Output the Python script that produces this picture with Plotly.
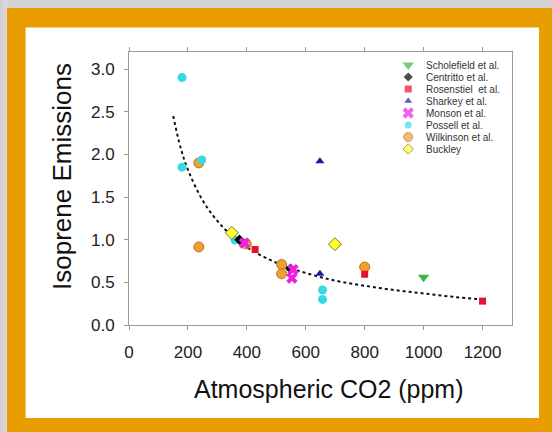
import plotly.graph_objects as go

# ---- data ----
series_names = ["Scholefield et al.", "Centritto et al.", "Rosenstiel  et al.", "Sharkey et al.",
                "Monson et al.", "Possell et al.", "Wilkinson et al.", "Buckley"]

scholefield_x = [1000]
scholefield_y = [0.56]

centritto_x = [375, 548]
centritto_y = [1.00, 0.66]

rosenstiel_x = [428, 800, 1200]
rosenstiel_y = [0.885, 0.595, 0.28]

sharkey_x = [648, 648]
sharkey_y = [1.92, 0.60]

monson_x = [392, 557, 553]
monson_y = [0.96, 0.65, 0.55]

possell_x = [180, 180, 247, 360, 657, 657]
possell_y = [2.90, 1.85, 1.935, 0.995, 0.41, 0.30]

wilkinson_x = [237, 237, 398, 518, 518, 800]
wilkinson_y = [1.90, 0.915, 0.95, 0.71, 0.60, 0.68]

buckley_x = [349, 699]
buckley_y = [1.08, 0.947]

# dotted trend curve
trend_x = [150, 175, 200, 250, 300, 350, 400, 500, 600, 700, 800, 900, 1000, 1100, 1200]
trend_y = [2.45, 2.08, 1.82, 1.46, 1.22, 1.04, 0.91, 0.73, 0.61, 0.52, 0.46, 0.41, 0.37, 0.33, 0.30]

x_ticks = [0, 200, 400, 600, 800, 1000, 1200]
y_ticks = [0.0, 0.5, 1.0, 1.5, 2.0, 2.5, 3.0]

# ---- styles ----
styles = [
    dict(symbol="triangle-down", color="#3cb84a", line=dict(width=0), size=10),
    dict(symbol="diamond", color="#000000", line=dict(width=0), size=8),
    dict(symbol="square", color="#e8102a", line=dict(width=0), size=7),
    dict(symbol="triangle-up", color="#1a1aa8", line=dict(width=0), size=8),
    dict(symbol="x", color="#f01ee0", line=dict(width=0), size=10),
    dict(symbol="circle", color="#3ad8e4", line=dict(width=0), size=9),
    dict(symbol="circle", color="#f0a032", line=dict(width=1, color="#b87818"), size=10),
    dict(symbol="diamond", color="#ffff33", line=dict(width=1, color="#7a7a20"), size=10),
]
legend_sizes = [10, 7, 7, 7, 10, 7, 9, 8]

all_x = [scholefield_x, centritto_x, rosenstiel_x, sharkey_x, monson_x, possell_x, wilkinson_x, buckley_x]
all_y = [scholefield_y, centritto_y, rosenstiel_y, sharkey_y, monson_y, possell_y, wilkinson_y, buckley_y]

W, H = 552, 432
L, T = 129, 52
R = W - 511.7
B = H - 325
pw, ph = W - L - R, H - T - B

def px(x):  # screen x -> paper
    return (x - L) / pw

def py(y):  # screen y -> paper
    return (H - B - y) / ph

fig = go.Figure()

fig.add_trace(go.Scatter(x=trend_x, y=trend_y, mode="lines",
                         line=dict(color="#111111", width=2, dash="dot", shape="spline"),
                         showlegend=False, hoverinfo="skip"))

order = [6, 5, 7, 1, 2, 3, 4, 0]
for i in order:
    st = styles[i]
    fig.add_trace(go.Scatter(x=all_x[i], y=all_y[i], mode="markers", name=series_names[i],
                             marker=dict(symbol=st["symbol"], color=st["color"], size=st["size"],
                                         line=st["line"]),
                             showlegend=False))

# manual legend (marker column + text column)
leg_mx = px(408)
leg_rows = [py(65 + 12 * k) for k in range(len(series_names))]
fig.add_trace(go.Scatter(
    x=[leg_mx] * len(series_names), y=leg_rows, mode="markers",
    xaxis="x3", yaxis="y3", showlegend=False, hoverinfo="skip",
    marker=dict(symbol=[s["symbol"] for s in styles], color=[s["color"] for s in styles],
                size=legend_sizes,
                line=dict(width=[s["line"].get("width", 0) for s in styles],
                          color=[s["line"].get("color", "#000") for s in styles]))))

annotations = []
for k, nm in enumerate(series_names):
    annotations.append(dict(x=px(424), y=leg_rows[k], xref="paper", yref="paper", text=nm,
                            showarrow=False, xanchor="left", yanchor="middle",
                            font=dict(size=10, color="#333333", family="Liberation Sans, Arial")))

annotations.append(dict(x=px(329), y=py(389), xref="paper", yref="paper",
                        text="Atmospheric CO2 (ppm)", showarrow=False,
                        xanchor="center", yanchor="middle",
                        font=dict(size=25, color="#111111", family="Liberation Sans, Arial")))
annotations.append(dict(x=px(62), y=py(176), xref="paper", yref="paper",
                        text="Isoprene Emissions", showarrow=False, textangle=-90,
                        xanchor="center", yanchor="middle",
                        font=dict(size=26, color="#111111", family="Liberation Sans, Arial")))

shapes = [
    # white card inside the orange frame
    dict(type="rect", xref="paper", yref="paper", x0=px(25.7), x1=px(538.7), y0=py(27.5), y1=py(418),
         fillcolor="#ffffff", line=dict(width=0), layer="below"),
]

axis_col = "#9a9a9a"
fig.update_layout(
    width=W, height=H,
    margin=dict(l=L, r=R, t=T, b=B, autoexpand=False),
    paper_bgcolor="rgba(0,0,0,0)", plot_bgcolor="rgba(0,0,0,0)",
    font=dict(family="Liberation Sans, Arial", color="#222222"),
    showlegend=False,
    xaxis=dict(range=[0, 1300], tickvals=x_ticks, ticks="outside", ticklen=4, tickcolor=axis_col,
               showline=True, linecolor=axis_col, linewidth=1, mirror="ticks", showgrid=False,
               zeroline=False, tickfont=dict(size=17, color="#222222"), ticklabelstandoff=8),
    yaxis=dict(range=[0, 3.2], tickvals=y_ticks, tickformat=".1f", ticks="outside", ticklen=4,
               tickcolor=axis_col, showline=True, linecolor=axis_col, linewidth=1, mirror=True,
               showgrid=False, zeroline=False, tickfont=dict(size=17, color="#222222"),
               ticklabelstandoff=6),
    xaxis3=dict(range=[0, 1], overlaying="x", visible=False, fixedrange=True),
    yaxis3=dict(range=[0, 1], overlaying="y", visible=False, fixedrange=True),
    annotations=annotations,
    shapes=shapes,
)

page_bg = ("linear-gradient(to right, #cfcfcf 0px, #dcdcdc 7px, transparent 7px), "
           "linear-gradient(to bottom, #d4d4d4 0px, #d4d4d4 8px, #e99d00 8px)")
fig.write_html("out.html", config={"displayModeBar": False},
               post_script=("document.body.style.margin='0';document.body.style.padding='0';"
                            "document.body.style.overflow='hidden';"
                            "document.documentElement.style.background='#e99d00';"
                            "document.body.style.minHeight='100vh';"
                            "document.body.style.background='" + page_bg + "';"))
